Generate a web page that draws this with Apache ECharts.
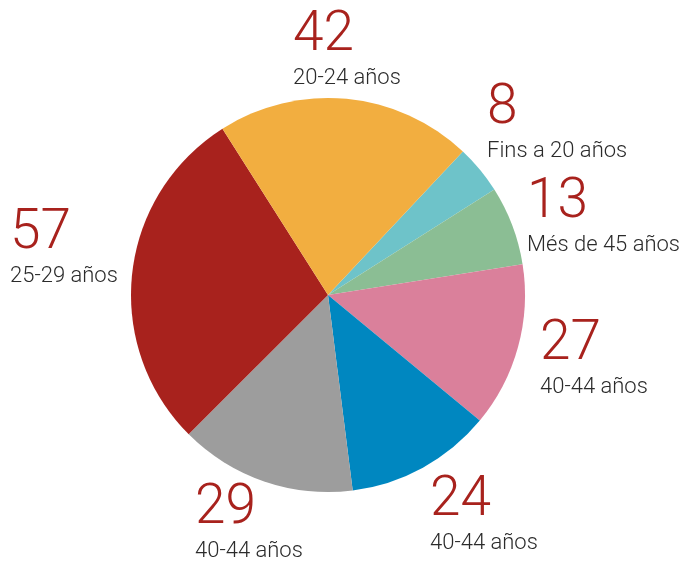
<!DOCTYPE html>
<html>
<head>
<meta charset="utf-8">
<script src="https://cdn.jsdelivr.net/npm/echarts@6/dist/echarts.min.js"></script>
<style>
  html, body { margin: 0; padding: 0; background: #fff; }
  #chart { width: 682px; height: 561px; }
</style>
</head>
<body>
<div id="chart"></div>
<script>
// dades
var categories = ['Fins a 20 años', 'Més de 45 años', '40-44 años', '40-44 años', '40-44 años', '25-29 años', '20-24 años'];
var values = [8, 13, 27, 24, 29, 57, 42];
var colors = ['#6ec3c9', '#8bbe94', '#da809b', '#0087c0', '#9d9d9d', '#a8221d', '#f2ae40'];

// posicio de cada etiqueta (cantonada superior esquerra)
var labelSpots = [[487, 81], [527, 175], [540, 317], [430, 473], [195, 481], [10, 206], [293, 8]];

var chart = echarts.init(document.getElementById('chart'));
chart.setOption({
  animation: false,
  series: [{
    type: 'pie',
    center: [328, 295],
    radius: 197,
    startAngle: 46.8,
    clockwise: true,
    avoidLabelOverlap: false,
    labelLine: { show: false },
    label: {
      show: true,
      position: 'outside',
      formatter: function(p){ return '{v|' + p.value + '}\n{n|' + p.name + '}'; },
      rich: {
        v: { fontFamily: 'Roboto', fontWeight: 300, fontSize: 55, lineHeight: 56, color: '#a8221d', letterSpacing: -2.5 },
        n: { fontFamily: 'Roboto', fontWeight: 300, fontSize: 22, lineHeight: 28, color: '#2b2b2b', letterSpacing: -0.4 }
      }
    },
    labelLayout: function(p){
      var s = labelSpots[p.dataIndex];
      return { x: s[0], y: s[1], align: 'left', verticalAlign: 'top' };
    },
    data: values.map(function(v, i){
      return { value: v, name: categories[i], itemStyle: { color: colors[i] } };
    })
  }]
});
</script>
</body>
</html>
